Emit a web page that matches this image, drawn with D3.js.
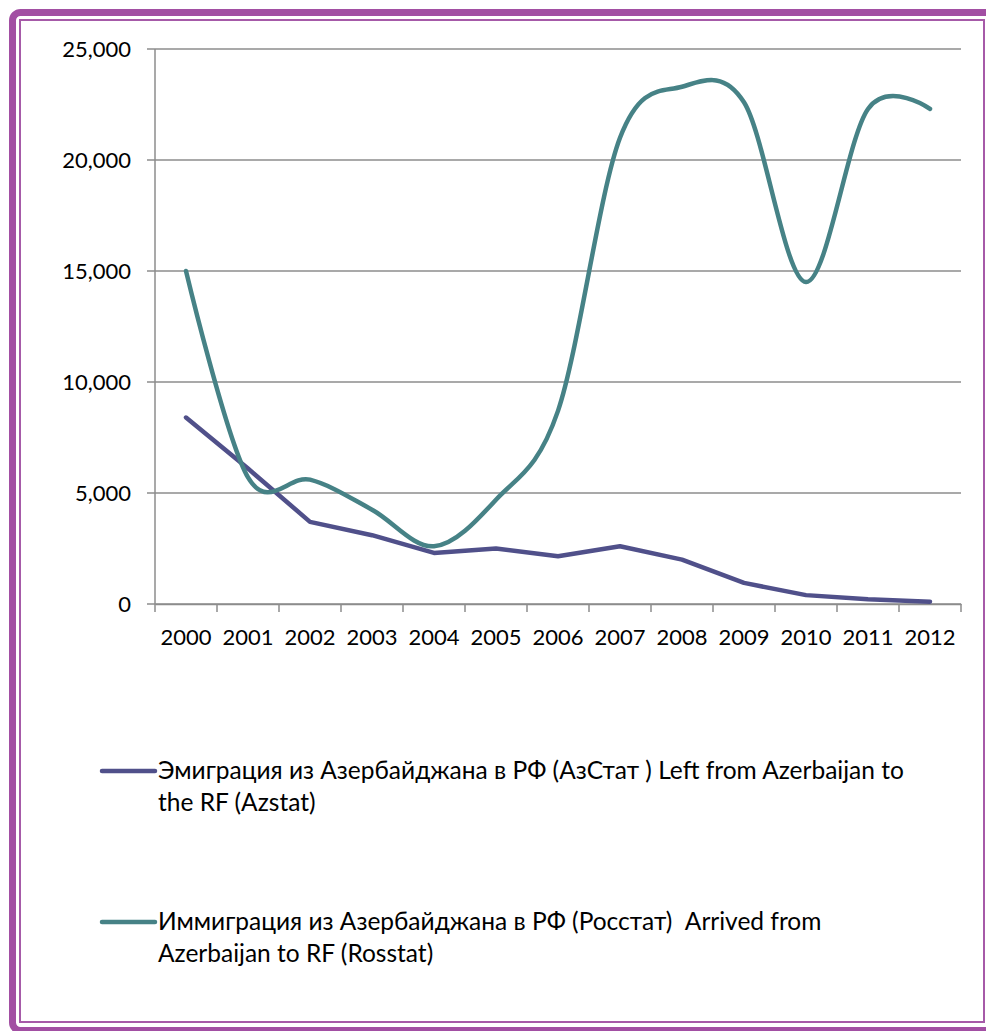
<!DOCTYPE html>
<html lang="ru">

<head>
  <meta charset="UTF-8">
  <title>Эмиграция / иммиграция Азербайджан - РФ</title>
  <style>
    body { margin: 0; background: #fff; }
    text { font-family: Lato, "Open Sans", sans-serif; fill: #000; }
  </style>
</head>

<body>

  <script src="https://cdn.jsdelivr.net/npm/d3@7/dist/d3.min.js"></script>
  <script>

    let width = 986
    let height = 1031

    // данные
    let years = ['2000', '2001', '2002', '2003', '2004', '2005', '2006', '2007', '2008', '2009', '2010', '2011', '2012']
    let azstat = [8400, 6100, 3700, 3100, 2300, 2500, 2150, 2600, 2000, 950, 400, 210, 100]
    let rosstat = [15000, 5700, 5600, 4250, 2600, 4700, 8700, 21000, 23300, 22600, 14500, 22300, 22300]
    let yTicks = [0, 5000, 10000, 15000, 20000, 25000]
    let seriesNames = [
      ['Эмиграция из Азербайджана в РФ (АзСтат ) Left from Azerbaijan to', 'the RF (Azstat)'],
      ['Иммиграция из Азербайджана в РФ (Росстат)  Arrived from', 'Azerbaijan to RF (Rosstat)']
    ]
    let colors = ['#50508a', '#468286']

    let svg = d3.select('body')
      .append('svg')
      .attr('width', width)
      .attr('height', height)

    // рамка
    svg.append('rect')
      .attr('x', 12.5).attr('y', 12.5)
      .attr('width', 990).attr('height', 1018)
      .attr('rx', 8)
      .attr('fill', 'none')
      .attr('stroke', '#a24fa3')
      .attr('stroke-width', 7)
    svg.append('rect')
      .attr('x', 20).attr('y', 20)
      .attr('width', 964).attr('height', 1002)
      .attr('fill', 'none')
      .attr('stroke', '#a65aa8')
      .attr('stroke-width', 2)

    let plotLeft = 155, plotRight = 961, plotTop = 49, plotBottom = 604

    let x = d3.scaleBand()
      .domain(years)
      .range([plotLeft, plotRight])
    let y = d3.scaleLinear()
      .domain([0, 25000])
      .range([plotBottom, plotTop])

    // сетка
    svg.append('g')
      .selectAll('line')
      .data(yTicks)
      .enter()
      .append('line')
      .attr('x1', plotLeft - 8)
      .attr('x2', plotRight)
      .attr('y1', d => y(d))
      .attr('y2', d => y(d))
      .attr('stroke', '#8c8c8c')
      .attr('stroke-width', 1.5)

    // ось Y
    svg.append('line')
      .attr('x1', plotLeft).attr('x2', plotLeft)
      .attr('y1', plotTop).attr('y2', plotBottom)
      .attr('stroke', '#8c8c8c')
      .attr('stroke-width', 1.5)

    svg.append('g')
      .selectAll('text')
      .data(yTicks)
      .enter()
      .append('text')
      .attr('x', 131)
      .attr('y', d => y(d))
      .attr('dy', '0.36em')
      .attr('text-anchor', 'end')
      .attr('font-size', 22)
      .text(d => d3.format(',')(d))

    // ось X
    let xAxis = svg.append('g')
      .attr('transform', `translate(0,${plotBottom})`)
      .call(d3.axisBottom(x).tickSize(0).tickFormat(''))
    xAxis.select('.domain').attr('stroke', '#8c8c8c').attr('stroke-width', 1.5)

    let edges = years.map(d => x(d)).concat([plotRight])
    svg.append('g')
      .selectAll('line')
      .data(edges)
      .enter()
      .append('line')
      .attr('x1', d => d).attr('x2', d => d)
      .attr('y1', plotBottom).attr('y2', plotBottom + 8)
      .attr('stroke', '#8c8c8c')
      .attr('stroke-width', 1.5)

    svg.append('g')
      .selectAll('text')
      .data(years)
      .enter()
      .append('text')
      .attr('x', d => x(d) + x.bandwidth() / 2)
      .attr('y', 645)
      .attr('text-anchor', 'middle')
      .attr('font-size', 22)
      .text(d => d)

    // линии
    let line = d3.line()
      .x((d, i) => x(years[i]) + x.bandwidth() / 2)
      .y(d => y(d))

    svg.append('path')
      .datum(azstat)
      .attr('d', line.curve(d3.curveLinear))
      .attr('fill', 'none')
      .attr('stroke', colors[0])
      .attr('stroke-width', 4.5)
      .attr('stroke-linecap', 'round')
      .attr('stroke-linejoin', 'round')

    svg.append('path')
      .datum(rosstat)
      .attr('d', line.curve(d3.curveCatmullRom.alpha(0)))
      .attr('fill', 'none')
      .attr('stroke', colors[1])
      .attr('stroke-width', 4.5)
      .attr('stroke-linecap', 'round')

    // легенда
    let legendY = [771, 922]
    let legend = svg.append('g')
      .selectAll('g')
      .data(seriesNames)
      .enter()
      .append('g')
      .attr('transform', (d, i) => `translate(0,${legendY[i]})`)

    legend.append('line')
      .attr('x1', 102).attr('x2', 155)
      .attr('y1', 0).attr('y2', 0)
      .attr('stroke', (d, i) => colors[i])
      .attr('stroke-width', 4.5)
      .attr('stroke-linecap', 'round')

    legend.append('text')
      .attr('font-size', 24.5)
      .style('white-space', 'pre')
      .selectAll('tspan')
      .data(d => d)
      .enter()
      .append('tspan')
      .attr('x', 158)
      .attr('y', (d, i) => 8 + i * 32)
      .text(d => d)
  </script>
</body>

</html>
